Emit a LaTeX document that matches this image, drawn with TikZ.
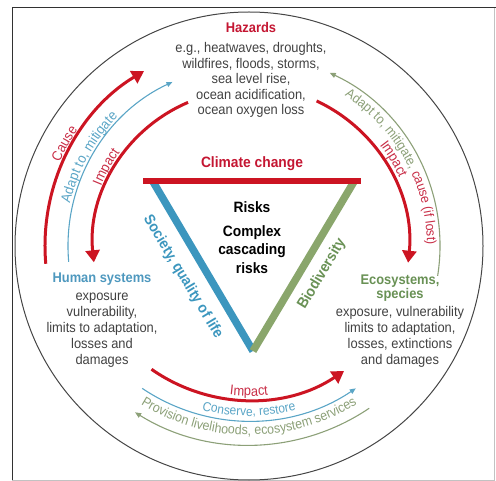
\documentclass[tikz,border=0pt]{standalone}
\usepackage{fontspec}
\setmainfont{Liberation Sans}[FakeStretch=0.92]
\usetikzlibrary{positioning,arrows.meta,decorations.text}
\definecolor{arrowred}{RGB}{204,20,34}
\definecolor{titlered}{RGB}{196,22,50}
\definecolor{labelred}{RGB}{200,45,70}
\definecolor{sysblue}{RGB}{78,152,190}
\definecolor{barblue}{RGB}{60,150,190}
\definecolor{thinblue}{RGB}{90,165,198}
\definecolor{biogreen}{RGB}{138,166,108}
\definecolor{ecogreen}{RGB}{105,145,85}
\definecolor{adaptgreen}{RGB}{140,160,120}
\definecolor{bodygray}{RGB}{65,65,65}
\definecolor{framegray}{RGB}{50,50,50}
\definecolor{circlegray}{RGB}{70,70,70}
\newcommand\arcfont{\fontsize{14}{14}\selectfont}

\begin{document}
\begin{tikzpicture}[x=1pt,y=1pt,
    bodytext/.style={text=bodygray,font=\fontsize{14}{16}\selectfont,align=center,inner sep=0pt},
    titletext/.style={font=\bfseries\fontsize{14}{14}\selectfont,align=center,inner sep=0pt},
    risktext/.style={font=\bfseries\fontsize{15}{18.5}\selectfont,align=center,inner sep=0pt},
    bigarrow/.style={draw=arrowred,line width=3pt,-{Triangle[length=12pt,width=14pt]}},
    thinarrow/.style={line width=1.1pt,-{Triangle[length=6pt,width=5pt]}},
    sidebar/.style={line width=7.5pt},
    arclabel/.style={decorate,decoration={text along path,text align=center,text={#1}}}]

	\useasboundingbox (0,0) rectangle (496,-481);
	\draw[framegray!30,line width=0.8pt] (494,-8) -- (494,-480) -- (12,-480);
	\draw[framegray,line width=1pt] (12,-480) -- (12,-8) -- (496,-8);

	\coordinate (o) at (249,-246);
	\coordinate (ob) at (249,-230);
	\draw[circlegray,line width=1pt] (o) circle[radius=234];

	\coordinate (redleft) at (143,-181);
	\coordinate (redright) at (361,-181);
	\coordinate (tleft) at (152.6,-181);
	\coordinate (tright) at (354.4,-181);
	\coordinate (tbottom) at (253,-351);
	\draw[sidebar,barblue] (tleft) -- (tbottom);
	\draw[sidebar,biogreen] (tright) -- (tbottom);
	\draw[line width=6.5pt,arrowred] (redleft) -- (redright);

	\node[titletext,text=titlered,anchor=base]				(hazards)		at (251,-33)	{Hazards};
	\node[bodytext,font=\fontsize{14}{15.5}\selectfont,below=9pt of hazards]	(hazardlist)	{e.g., heatwaves, droughts,\\ wildfires, floods, storms,\\ sea level rise,\\ ocean acidification,\\ ocean oxygen loss};
	\node[risktext,text=titlered,anchor=base]				(climate)		at (252,-168)	{Climate change};
	\node[risktext,anchor=base]						(risks)			at (252,-213)	{Risks};
	\node[risktext,below=12pt of risks]					(cascade)					{Complex\\ cascading\\ risks};
	\node[titletext,text=sysblue,anchor=base]				(human)			at (102,-283)	{Human systems};
	\node[bodytext,below=7pt of human]					(humanbody)					{exposure\\ vulnerability,\\ limits to adaptation,\\ losses and\\ damages};
	\node[titletext,text=ecogreen,font=\bfseries\fontsize{14}{13.5}\selectfont,anchor=base]	(eco)	at (400,-298.5)	{Ecosystems,\\ species};
	\node[bodytext,below=5pt of eco]					(ecobody)					{exposure, vulnerability\\ limits to adaptation,\\ losses, extinctions\\ and damages};
	\node[risktext,text=barblue,rotate=-59]					(society)		at (183,-277)	{Society, quality of life};
	\node[risktext,text=ecogreen,rotate=59]					(biodiv)		at (322,-274)	{Biodiversity};

	\draw[bigarrow] (o) ++(185:204) arc[start angle=185,end angle=121,radius=204];
	\draw[thinarrow,thinblue] (o) ++(185:181) arc[start angle=185,end angle=115,radius=181];
	\draw[bigarrow] (o) ++(113:156) arc[start angle=113,end angle=186,radius=156];
	\draw[bigarrow] (o) ++(65:160) arc[start angle=65,end angle=-6,radius=160];
	\draw[thinarrow,adaptgreen] (o) ++(-9:191) arc[start angle=-9,end angle=65,radius=191];
	\draw[bigarrow] (ob) ++(235:170) arc[start angle=235,end angle=304,radius=170];
	\draw[thinarrow,thinblue] (ob) ++(236:191) arc[start angle=236,end angle=304,radius=191];
	\draw[thinarrow,adaptgreen] (ob) ++(304:215) arc[start angle=304,end angle=238,radius=215];

	\path[arclabel={|\arcfont\color{labelred}|Cause}] (o) ++(181:207) arc[start angle=181,end angle=121,radius=207];
	\path[arclabel={|\arcfont\color{thinblue}|Adapt to, mitigate}] (o) ++(185:184) arc[start angle=185,end angle=117,radius=184];
	\path[arclabel={|\arcfont\color{labelred}|Impact}] (o) ++(181:159.5) arc[start angle=181,end angle=121,radius=159.5];
	\path[arclabel={|\arcfont\color{labelred}|Impact}] (o) ++(61:165) arc[start angle=61,end angle=1,radius=165];
	\path[arclabel={|\fontsize{13.5}{13.5}\selectfont\color{adaptgreen}|Adapt to, mitigate, |\fontsize{13.5}{13.5}\selectfont\color{labelred}|cause (if lost)}] (o) ++(64:178) arc[start angle=64,end angle=-6,radius=178];
	\path[arclabel={|\arcfont\color{labelred}|Impact}] (ob) ++(240:166) arc[start angle=240,end angle=300,radius=166];
	\path[arclabel={|\fontsize{13}{13}\selectfont\color{thinblue}|Conserve, restore}] (ob) ++(240:186) arc[start angle=240,end angle=300,radius=186];
	\path[arclabel={|\fontsize{13.5}{13.5}\selectfont\color{adaptgreen}|Provision livelihoods, ecosystem services}] (ob) ++(233:205) arc[start angle=233,end angle=307,radius=205];
\end{tikzpicture}
\end{document}
